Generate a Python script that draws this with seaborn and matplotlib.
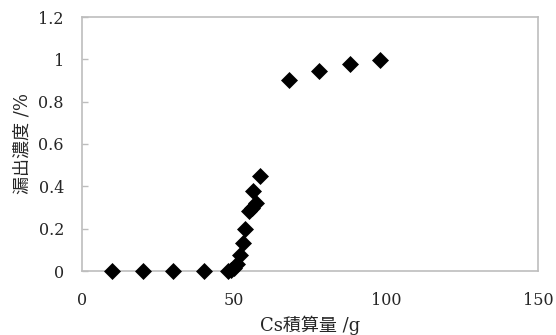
import matplotlib
matplotlib.use("Agg")
import matplotlib.pyplot as plt
import seaborn as sns
import pandas as pd

# Cs積算量 vs 漏出濃度 (breakthrough curve)
cs_total = [10, 20, 30, 40, 48, 49, 50, 51, 52, 52.8, 53.5, 54.8, 56, 57.2, 56.2, 58.5, 68, 78, 88, 98]
leak_conc = [0, 0, 0, 0, 0, 0.005, 0.015, 0.035, 0.075, 0.13, 0.2, 0.285, 0.3, 0.32, 0.38, 0.45, 0.9, 0.945, 0.98, 0.995]

x_ticks = [0, 50, 100, 150]
y_ticks = [0, 0.2, 0.4, 0.6, 0.8, 1, 1.2]
y_ticklabels = ["0", "0.2", "0.4", "0.6", "0.8", "1", "1.2"]

df = pd.DataFrame({"cs": cs_total, "conc": leak_conc})

sns.set_style("white")
plt.rcParams["font.family"] = ["DejaVu Serif", "Noto Sans CJK JP"]

fig = plt.figure(figsize=(5.56, 3.35), dpi=100)
ax = fig.add_axes([82 / 556, 1 - 271 / 335, (538 - 82) / 556, (271 - 17) / 335])

sns.scatterplot(data=df, x="cs", y="conc", ax=ax, marker="D", s=75,
                color="black", edgecolor="black", linewidth=0, zorder=3, clip_on=False)

ax.set_xlim(0, 150)
ax.set_ylim(0, 1.2)
ax.set_xticks(x_ticks)
ax.set_yticks(y_ticks)
ax.set_yticklabels(y_ticklabels)

for sp in ax.spines.values():
    sp.set_color("#bdbdbd")
    sp.set_linewidth(1.2)

ax.tick_params(axis="y", direction="in", length=4, width=1, color="#bdbdbd",
               pad=13, labelsize=11.5, left=True)
ax.tick_params(axis="x", length=0, pad=15, labelsize=11.5)

ax.set_xlabel("Cs積算量 /g", fontsize=13, labelpad=5)
ax.set_ylabel("漏出濃度 /%", fontsize=13, labelpad=5)

fig.savefig("out.png", dpi=100)
